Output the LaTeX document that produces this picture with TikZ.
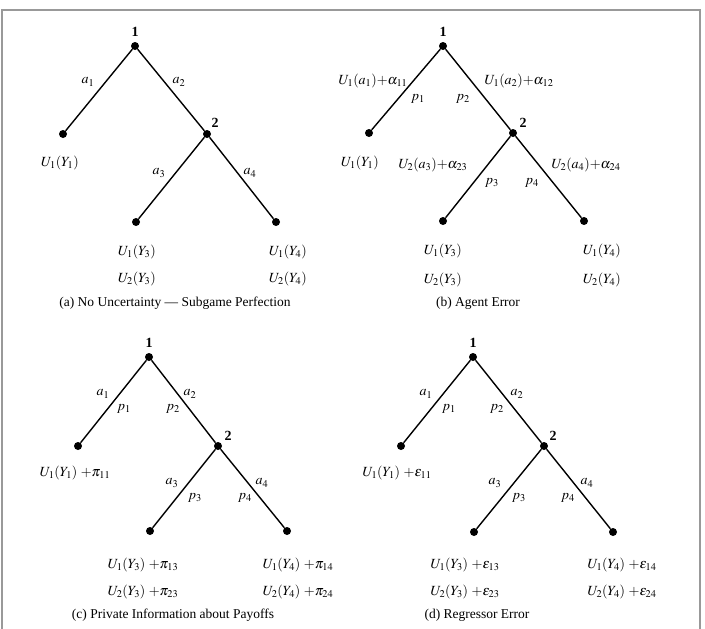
\documentclass[tikz,border=0pt]{standalone}
\usepackage{mathptmx}
\usepackage{fontspec}
\setmainfont{Liberation Serif}
\begin{document}
\begin{tikzpicture}[x=1pt,y=-1pt,
  dot/.style={circle,fill=black,inner sep=0pt,minimum size=8pt},
  lbl/.style={inner sep=0pt,font=\fontsize{14}{16}\selectfont},
  num/.style={inner sep=0pt,font=\fontsize{14}{16}\selectfont\bfseries},
  captxt/.style={inner sep=0pt,font=\fontsize{13.5}{16}\selectfont},
  branch/.style={line width=1.4pt},
  frameline/.style={draw=black!40,line width=1.5pt}]
\useasboundingbox (0,0) rectangle (705,629);
\draw[frameline] (2,629) -- (2,10) -- (700,10) -- (700,629);
% ---------- (a)
\node[dot] (n1a) at (135,46) {};
\node[dot] (n2a) at (207,134) {};
\node[dot] (l1a) at (63,134) {};
\node[dot] (l3a) at (136,222) {};
\node[dot] (l4a) at (276,222) {};
\draw[branch] (n1a) -- (l1a);
\draw[branch] (n1a) -- (n2a);
\draw[branch] (n2a) -- (l3a);
\draw[branch] (n2a) -- (l4a);
\node[num] (t1a) at (135,32) {1};
\node[num] (t2a) at (215,123) {2};
\node[lbl] (a1a) at (88,82) {$a_1$};
\node[lbl] (a2a) at (179,82) {$a_2$};
\node[lbl] (a3a) at (159,173) {$a_3$};
\node[lbl] (a4a) at (250,173) {$a_4$};
\node[lbl] (u1a) at (60,163) {$U_1(Y_1)$};
\node[lbl] (u13a) at (137,252) {$U_1(Y_3)$};
\node[lbl] (u23a) at (137,279) {$U_2(Y_3)$};
\node[lbl] (u14a) at (288,252) {$U_1(Y_4)$};
\node[lbl] (u24a) at (288,279) {$U_2(Y_4)$};
\node[captxt] (capa) at (175,303) {(a) No Uncertainty --- Subgame Perfection};
% ---------- (b)
\node[dot] (n1b) at (443,46) {};
\node[dot] (n2b) at (513,133) {};
\node[dot] (l1b) at (369,133) {};
\node[dot] (l3b) at (443,221) {};
\node[dot] (l4b) at (584,221) {};
\draw[branch] (n1b) -- (l1b);
\draw[branch] (n1b) -- (n2b);
\draw[branch] (n2b) -- (l3b);
\draw[branch] (n2b) -- (l4b);
\node[num] (t1b) at (443,32) {1};
\node[num] (t2b) at (523,123) {2};
\node[lbl] (e1b) at (373,81) {$U_1(a_1){+}\alpha_{11}$};
\node[lbl] (e2b) at (519,81) {$U_1(a_2){+}\alpha_{12}$};
\node[lbl] (p1b) at (418,99) {$p_1$};
\node[lbl] (p2b) at (463,99) {$p_2$};
\node[lbl] (e3b) at (433,165) {$U_2(a_3){+}\alpha_{23}$};
\node[lbl] (e4b) at (586,165) {$U_2(a_4){+}\alpha_{24}$};
\node[lbl] (p3b) at (492,183) {$p_3$};
\node[lbl] (p4b) at (532,183) {$p_4$};
\node[lbl] (u1b) at (360,163) {$U_1(Y_1)$};
\node[lbl] (u13b) at (443,251) {$U_1(Y_3)$};
\node[lbl] (u23b) at (443,280) {$U_2(Y_3)$};
\node[lbl] (u14b) at (602,251) {$U_1(Y_4)$};
\node[lbl] (u24b) at (602,280) {$U_2(Y_4)$};
\node[captxt] (capb) at (478,303) {(b) Agent Error};
% ---------- (c)
\node[dot] (n1c) at (149,357) {};
\node[dot] (n2c) at (218,446) {};
\node[dot] (l1c) at (78,446) {};
\node[dot] (l3c) at (150,531) {};
\node[dot] (l4c) at (287,531) {};
\draw[branch] (n1c) -- (l1c);
\draw[branch] (n1c) -- (n2c);
\draw[branch] (n2c) -- (l3c);
\draw[branch] (n2c) -- (l4c);
\node[num] (t1c) at (149,343) {1};
\node[num] (t2c) at (228,436) {2};
\node[lbl] (a1c) at (103,394) {$a_1$};
\node[lbl] (p1c) at (124,409) {$p_1$};
\node[lbl] (a2c) at (190,394) {$a_2$};
\node[lbl] (p2c) at (173,409) {$p_2$};
\node[lbl] (a3c) at (172,483) {$a_3$};
\node[lbl] (p3c) at (195,498) {$p_3$};
\node[lbl] (a4c) at (262,483) {$a_4$};
\node[lbl] (p4c) at (245,498) {$p_4$};
\node[lbl] (u1c) at (75,473) {$U_1(Y_1)\ {+}\pi_{11}$};
\node[lbl] (u13c) at (143,565) {$U_1(Y_3)\ {+}\pi_{13}$};
\node[lbl] (u23c) at (143,592) {$U_2(Y_3)\ {+}\pi_{23}$};
\node[lbl] (u14c) at (298,565) {$U_1(Y_4)\ {+}\pi_{14}$};
\node[lbl] (u24c) at (298,592) {$U_2(Y_4)\ {+}\pi_{24}$};
\node[captxt] (capc) at (173,615) {(c) Private Information about Payoffs};
% ---------- (d)
\node[dot] (n1d) at (473,357) {};
\node[dot] (n2d) at (544,446) {};
\node[dot] (l1d) at (401,446) {};
\node[dot] (l3d) at (474,532) {};
\node[dot] (l4d) at (613,532) {};
\draw[branch] (n1d) -- (l1d);
\draw[branch] (n1d) -- (n2d);
\draw[branch] (n2d) -- (l3d);
\draw[branch] (n2d) -- (l4d);
\node[num] (t1d) at (473,343) {1};
\node[num] (t2d) at (553,436) {2};
\node[lbl] (a1d) at (426,394) {$a_1$};
\node[lbl] (p1d) at (449,409) {$p_1$};
\node[lbl] (a2d) at (517,394) {$a_2$};
\node[lbl] (p2d) at (497,409) {$p_2$};
\node[lbl] (a3d) at (495,483) {$a_3$};
\node[lbl] (p3d) at (519,498) {$p_3$};
\node[lbl] (a4d) at (587,483) {$a_4$};
\node[lbl] (p4d) at (568,498) {$p_4$};
\node[lbl] (u1d) at (397,473) {$U_1(Y_1)\ {+}\varepsilon_{11}$};
\node[lbl] (u13d) at (465,565) {$U_1(Y_3)\ {+}\varepsilon_{13}$};
\node[lbl] (u23d) at (465,592) {$U_2(Y_3)\ {+}\varepsilon_{23}$};
\node[lbl] (u14d) at (622,565) {$U_1(Y_4)\ {+}\varepsilon_{14}$};
\node[lbl] (u24d) at (622,592) {$U_2(Y_4)\ {+}\varepsilon_{24}$};
\node[captxt] (capd) at (477,615) {(d) Regressor Error};
\end{tikzpicture}
\end{document}
